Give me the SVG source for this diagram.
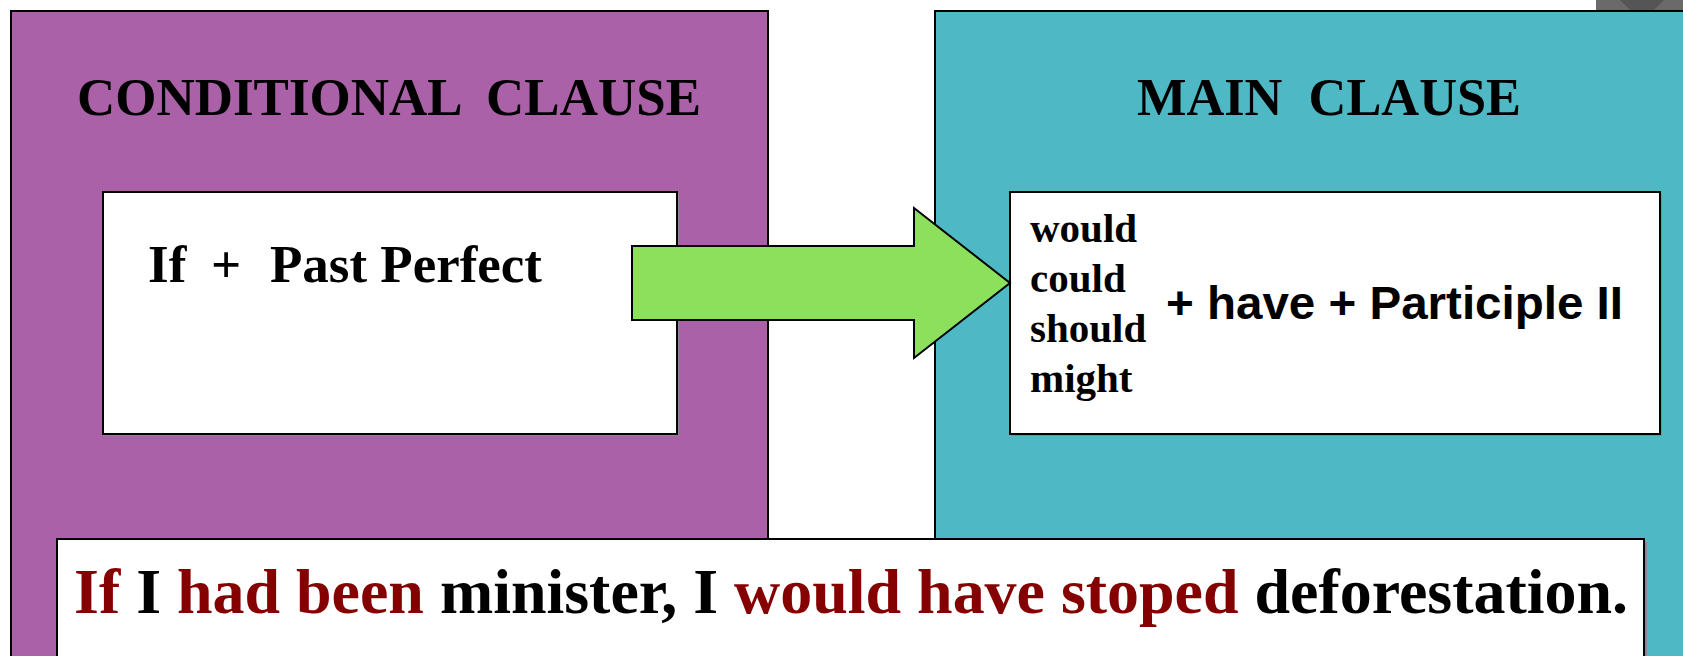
<svg xmlns="http://www.w3.org/2000/svg" width="1683" height="656" viewBox="0 0 1683 656">
  <style>
    .panel { stroke: #000; stroke-width: 2; }
    .box { fill: #fff; stroke: #000; stroke-width: 2; }
    .shadow { fill: #8a8a8a; }
    .serif { font-family: "Liberation Serif", "Times New Roman", serif; font-weight: bold; fill: #000; }
    .sans { font-family: "Liberation Sans", Arial, sans-serif; font-weight: bold; fill: #000; }
    .red { fill: #850000; }
  </style>
  <rect x="0" y="0" width="1683" height="656" fill="#fff"/>
  <g id="topright-artifact">
    <rect x="1596" y="0" width="87" height="10" fill="#6a6a6a"/>
    <polygon points="1620,0 1664,0 1654,10 1630,10" fill="#555"/>
  </g>
  <g id="conditional-panel">
    <rect class="panel" x="11" y="11" width="757" height="660" fill="#AB61A7"/>
    <text class="serif" x="77" y="115" font-size="53" xml:space="preserve" textLength="624" lengthAdjust="spacingAndGlyphs">CONDITIONAL  CLAUSE</text>
  </g>
  <g id="main-panel">
    <rect class="panel" x="935" y="11" width="770" height="660" fill="#4EB9C4"/>
    <text class="serif" x="1137" y="115" font-size="53" xml:space="preserve" textLength="384" lengthAdjust="spacingAndGlyphs">MAIN  CLAUSE</text>
  </g>
  <g id="if-box">
    <rect class="shadow" x="105" y="194" width="574" height="242"/>
    <rect class="box" x="103" y="192" width="574" height="242"/>
    <text class="serif" font-size="53" y="282"><tspan x="148">If</tspan><tspan x="211">+</tspan><tspan x="270" textLength="272" lengthAdjust="spacingAndGlyphs">Past Perfect</tspan></text>
  </g>
  <g id="result-box">
    <rect class="shadow" x="1012" y="194" width="650" height="242"/>
    <rect class="box" x="1010" y="192" width="650" height="242"/>
    <g class="serif" font-size="41">
      <text x="1030" y="242">would</text>
      <text x="1030" y="292">could</text>
      <text x="1030" y="342">should</text>
      <text x="1030" y="392">might</text>
    </g>
    <text class="sans" x="1166" y="319" font-size="46" textLength="457" lengthAdjust="spacingAndGlyphs">+ have + Participle II</text>
  </g>
  <g id="connectors">
    <polygon points="632,246 914,246 914,208 1010,283 914,358 914,320 632,320" fill="#8CE05C" stroke="#000" stroke-width="2" stroke-linejoin="miter"/>
  </g>
  <g id="example-box">
    <rect class="shadow" x="60" y="542" width="1587" height="130"/>
    <rect class="box" x="57" y="539" width="1587" height="130"/>
    <text class="serif" x="74" y="613" font-size="64" textLength="1554" lengthAdjust="spacingAndGlyphs"><tspan class="red">If</tspan> I <tspan class="red">had been</tspan> minister, I <tspan class="red">would have stoped</tspan> deforestation.</text>
  </g>
</svg>
